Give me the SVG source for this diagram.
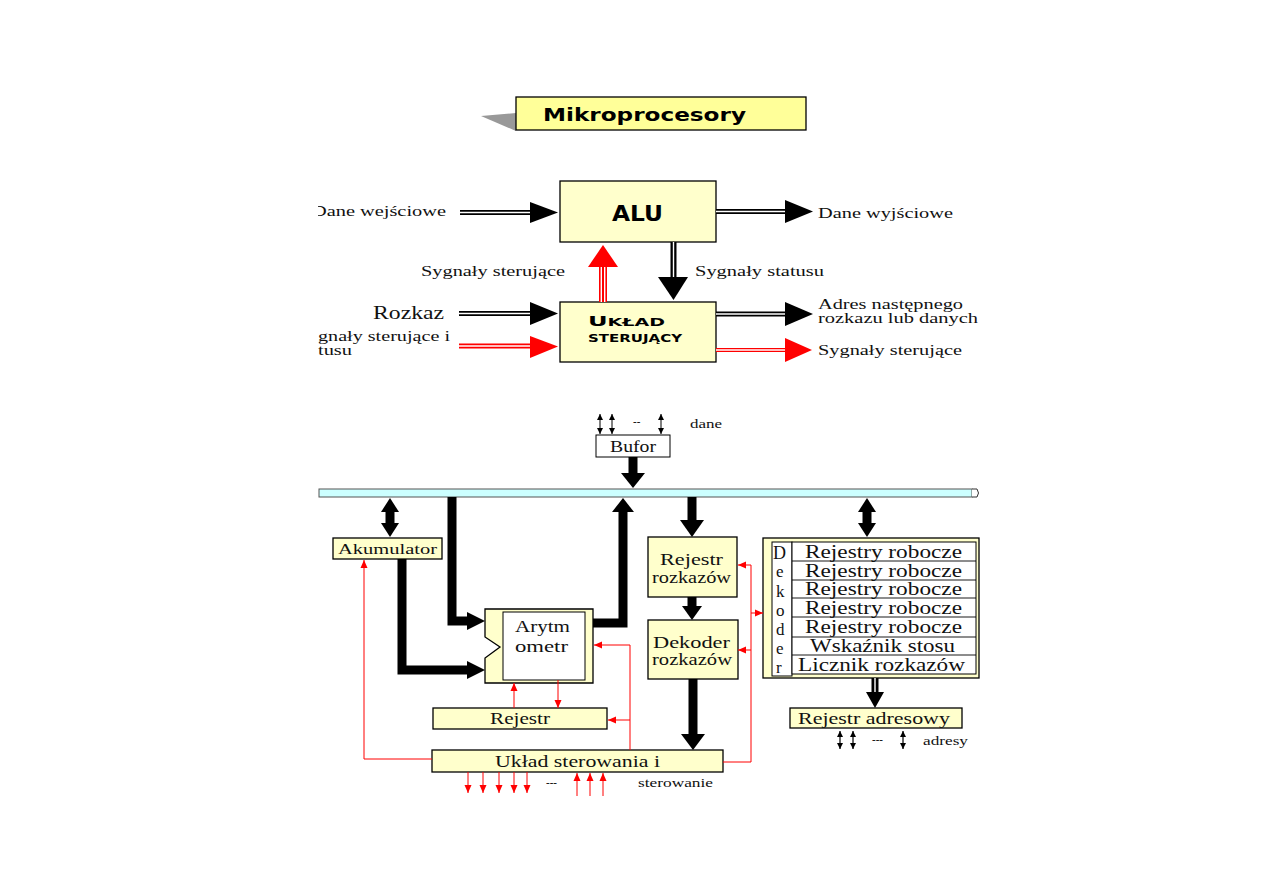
<svg xmlns="http://www.w3.org/2000/svg" width="1263" height="893" viewBox="0 0 1263 893">
<style>
.box{fill:#FFFFCC;stroke:#000;stroke-width:1.3}
.wbox{fill:#fff;stroke:#000;stroke-width:1}
.t{font-family:"Liberation Serif",serif;fill:#111}
.s{font-family:"DejaVu Sans","Liberation Sans",sans-serif;font-weight:bold;fill:#000}
.blk{stroke:#000;fill:none}
.red{stroke:#FF0000;fill:none;stroke-width:1}
.wl{stroke:#fff;fill:none;stroke-width:1.4}
.thick{stroke:#000;fill:none;stroke-width:9;stroke-linejoin:miter}
</style>
<defs>
<marker id="ra" viewBox="0 0 8 8" refX="8" refY="4" markerWidth="8" markerHeight="8" markerUnits="userSpaceOnUse" orient="auto"><path d="M0,0.5 L8,4 L0,7.5 Z" fill="#FF0000"/></marker>
<marker id="ba" viewBox="0 0 6 6" refX="6" refY="3" markerWidth="6" markerHeight="6" markerUnits="userSpaceOnUse" orient="auto-start-reverse"><path d="M0,0 L6,3 L0,6 Z" fill="#000"/></marker>
<clipPath id="lc"><rect x="318" y="0" width="945" height="893"/></clipPath>
<clipPath id="dc"><rect x="772" y="542" width="20" height="134"/></clipPath>
</defs>
<rect width="1263" height="893" fill="#fff"/>

<g id="title">
<polygon points="481,116 516,113 516,131" fill="#999"/>
<rect x="516" y="97" width="290" height="33" fill="#FFFF99" stroke="#000" stroke-width="1.3"/>
<text x="543" y="121" class="s" font-size="18" textLength="203" lengthAdjust="spacingAndGlyphs">Mikroprocesory</text>
</g>

<g id="alu">
<rect x="560" y="181" width="156" height="61" class="box"/>
<text x="612" y="221" class="s" font-size="21" textLength="51" lengthAdjust="spacingAndGlyphs">ALU</text>
</g>

<g id="uklad-sterujacy">
<rect x="560" y="302" width="156" height="60" class="box"/>
<text x="588" y="326" class="s" font-size="14" textLength="77" lengthAdjust="spacingAndGlyphs">U<tspan font-size="11">KŁAD</tspan></text>
<text x="588" y="342" class="s" font-size="10.5" textLength="94" lengthAdjust="spacingAndGlyphs">STERUJĄCY</text>
</g>

<g id="connectors-top">
<line x1="460" y1="212.5" x2="531" y2="212.5" class="blk" stroke-width="5"/>
<line x1="460" y1="212.5" x2="531" y2="212.5" class="wl"/>
<polygon points="530,202 558,212.5 530,223" fill="#000"/>
<line x1="716" y1="211.5" x2="786" y2="211.5" class="blk" stroke-width="5"/>
<line x1="716" y1="211.5" x2="786" y2="211.5" class="wl"/>
<polygon points="785,200 813,211.5 785,223" fill="#000"/>
<line x1="603" y1="266" x2="603" y2="302" stroke="#FF0000" stroke-width="8"/>
<line x1="601.3" y1="266" x2="601.3" y2="302" class="wl" stroke-width="1.1"/>
<line x1="604.7" y1="266" x2="604.7" y2="302" class="wl" stroke-width="1.1"/>
<polygon points="588,267 603,245 618,267" fill="#FF0000"/>
<line x1="673.5" y1="242" x2="673.5" y2="278" class="blk" stroke-width="6"/>
<line x1="673.5" y1="242" x2="673.5" y2="278" class="wl"/>
<polygon points="658,277 673.5,300 688,277" fill="#000"/>
<line x1="459" y1="313.5" x2="531" y2="313.5" class="blk" stroke-width="5"/>
<line x1="459" y1="313.5" x2="531" y2="313.5" class="wl"/>
<polygon points="530,302 558,313.5 530,325" fill="#000"/>
<line x1="459" y1="346" x2="531" y2="346" stroke="#FF0000" stroke-width="5"/>
<line x1="459" y1="346" x2="531" y2="346" class="wl"/>
<polygon points="530,336 558,346.5 530,358" fill="#FF0000"/>
<line x1="716" y1="314" x2="786" y2="314" class="blk" stroke-width="5"/>
<line x1="716" y1="314" x2="786" y2="314" class="wl"/>
<polygon points="785,302 813,314 785,326" fill="#000"/>
<line x1="716" y1="350" x2="786" y2="350" stroke="#FF0000" stroke-width="4"/>
<line x1="716" y1="350" x2="786" y2="350" class="wl" stroke-width="1.2"/>
<polygon points="785,338 812,350 785,362" fill="#FF0000"/>
</g>

<g id="labels-top">
<g clip-path="url(#lc)">
<text x="312" y="216" class="t" font-size="15" textLength="134" lengthAdjust="spacingAndGlyphs">Dane wejściowe</text>
</g>
<text x="818" y="218" class="t" font-size="15" textLength="135" lengthAdjust="spacingAndGlyphs">Dane wyjściowe</text>
<text x="421" y="276" class="t" font-size="15" textLength="144" lengthAdjust="spacingAndGlyphs">Sygnały sterujące</text>
<text x="695" y="276" class="t" font-size="15" textLength="129" lengthAdjust="spacingAndGlyphs">Sygnały statusu</text>
<text x="373" y="319" class="t" font-size="19" textLength="71" lengthAdjust="spacingAndGlyphs">Rozkaz</text>
<text x="318" y="341" class="t" font-size="14" textLength="132" lengthAdjust="spacingAndGlyphs">gnały sterujące i</text>
<text x="318" y="355" class="t" font-size="14" textLength="34" lengthAdjust="spacingAndGlyphs">tusu</text>
<text x="818" y="309" class="t" font-size="14" textLength="145" lengthAdjust="spacingAndGlyphs">Adres następnego</text>
<text x="818" y="323" class="t" font-size="14" textLength="160" lengthAdjust="spacingAndGlyphs">rozkazu lub danych</text>
<text x="818" y="355" class="t" font-size="15" textLength="144" lengthAdjust="spacingAndGlyphs">Sygnały sterujące</text>
</g>

<g id="bufor">
<rect x="596" y="435" width="74" height="22" class="wbox"/>
<text x="610" y="452" class="t" font-size="16" textLength="46" lengthAdjust="spacingAndGlyphs">Bufor</text>
</g>

<g id="bus">
<rect x="319" y="489" width="653" height="8" fill="#CCFFFF" stroke="#555" stroke-width="1"/>
<path d="M972,489 H977 Q980,493 977,497 H972" fill="#fff" stroke="#333" stroke-width="1"/>
</g>

<g id="akumulator">
<rect x="333" y="538" width="109" height="21" class="box"/>
<text x="338" y="554" class="t" font-size="15" textLength="99" lengthAdjust="spacingAndGlyphs">Akumulator</text>
</g>

<g id="arytmometr">
<path d="M485,609 H593 V683 H485 V658 L500,647 L485,637 Z" class="box"/>
<rect x="503" y="612" width="82" height="68" class="wbox"/>
<text x="515" y="632" class="t" font-size="16" textLength="55" lengthAdjust="spacingAndGlyphs">Arytm</text>
<text x="515" y="652" class="t" font-size="16" textLength="53" lengthAdjust="spacingAndGlyphs">ometr</text>
</g>

<g id="rejestr">
<rect x="433" y="708" width="174" height="21" class="box"/>
<text x="490" y="724" class="t" font-size="16" textLength="60" lengthAdjust="spacingAndGlyphs">Rejestr</text>
</g>

<g id="uklad-sterowania">
<rect x="432" y="750" width="291" height="22" class="box"/>
<text x="495" y="767" class="t" font-size="17" textLength="165" lengthAdjust="spacingAndGlyphs">Układ sterowania i</text>
</g>

<g id="rejestr-rozkazow">
<rect x="648" y="537" width="89" height="60" class="box"/>
<text x="660" y="565" class="t" font-size="16" textLength="63" lengthAdjust="spacingAndGlyphs">Rejestr</text>
<text x="652" y="583" class="t" font-size="16" textLength="79" lengthAdjust="spacingAndGlyphs">rozkazów</text>
</g>

<g id="dekoder-rozkazow">
<rect x="648" y="620" width="90" height="59" class="box"/>
<text x="653" y="648" class="t" font-size="16" textLength="77" lengthAdjust="spacingAndGlyphs">Dekoder</text>
<text x="652" y="665" class="t" font-size="16" textLength="80" lengthAdjust="spacingAndGlyphs">rozkazów</text>
</g>

<g id="rejestry">
<rect x="763" y="538" width="216" height="140" class="box"/>
<rect x="772" y="542" width="20" height="134" class="wbox"/>
<rect x="792" y="542" width="184" height="132" class="wbox"/>
<g stroke="#000" stroke-width="0.9">
<line x1="792" y1="561" x2="976" y2="561"/>
<line x1="792" y1="580" x2="976" y2="580"/>
<line x1="792" y1="598" x2="976" y2="598"/>
<line x1="792" y1="617" x2="976" y2="617"/>
<line x1="792" y1="637" x2="976" y2="637"/>
<line x1="792" y1="655" x2="976" y2="655"/>
</g>
<g clip-path="url(#dc)">
<text x="773" y="559" class="t" font-size="18">D</text>
<text x="776" y="577" class="t" font-size="17">e</text>
<text x="776" y="597" class="t" font-size="17">k</text>
<text x="776" y="616" class="t" font-size="17">o</text>
<text x="776" y="635" class="t" font-size="17">d</text>
<text x="776" y="654" class="t" font-size="17">e</text>
<text x="776" y="673" class="t" font-size="17">r</text>
</g>
<text x="805" y="558" class="t" font-size="18" textLength="157" lengthAdjust="spacingAndGlyphs">Rejestry robocze</text>
<text x="805" y="577" class="t" font-size="18" textLength="157" lengthAdjust="spacingAndGlyphs">Rejestry robocze</text>
<text x="805" y="595" class="t" font-size="18" textLength="157" lengthAdjust="spacingAndGlyphs">Rejestry robocze</text>
<text x="805" y="614" class="t" font-size="18" textLength="157" lengthAdjust="spacingAndGlyphs">Rejestry robocze</text>
<text x="805" y="633" class="t" font-size="18" textLength="157" lengthAdjust="spacingAndGlyphs">Rejestry robocze</text>
<text x="810" y="652" class="t" font-size="18" textLength="145" lengthAdjust="spacingAndGlyphs">Wskaźnik stosu</text>
<text x="798" y="671" class="t" font-size="18" textLength="167" lengthAdjust="spacingAndGlyphs">Licznik rozkazów</text>
</g>

<g id="rejestr-adresowy">
<rect x="790" y="708" width="172" height="20" class="box"/>
<text x="798" y="724" class="t" font-size="17" textLength="152" lengthAdjust="spacingAndGlyphs">Rejestr adresowy</text>
</g>

<g id="connectors-bottom">
<line x1="600" y1="414" x2="600" y2="434" stroke="#000" stroke-width="1" marker-start="url(#ba)" marker-end="url(#ba)"/>
<line x1="612" y1="414" x2="612" y2="434" stroke="#000" stroke-width="1" marker-start="url(#ba)" marker-end="url(#ba)"/>
<line x1="661" y1="414" x2="661" y2="434" stroke="#000" stroke-width="1" marker-start="url(#ba)" marker-end="url(#ba)"/>
<line x1="633" y1="457" x2="633" y2="474" class="thick"/>
<polygon points="621,473 633,488 645,473" fill="#000"/>
<line x1="390" y1="510" x2="390" y2="525" class="thick" stroke-width="8"/>
<polygon points="381,512 390,498 399,512" fill="#000"/>
<polygon points="381,523 390,537 399,523" fill="#000"/>
<polyline points="452,497 452,621 468,621" class="thick"/>
<polygon points="467,612 485,621 467,630" fill="#000"/>
<polyline points="402,559 402,670 468,670" class="thick"/>
<polygon points="467,661 485,670 467,679" fill="#000"/>
<polyline points="593,623 623,623 623,511" class="thick"/>
<polygon points="612,512 623,498 634,512" fill="#000"/>
<line x1="692" y1="497" x2="692" y2="521" class="thick"/>
<polygon points="680,520 692,537 704,520" fill="#000"/>
<line x1="692" y1="597" x2="692" y2="607" class="thick"/>
<polygon points="682,606 692,620 702,606" fill="#000"/>
<line x1="693" y1="679" x2="693" y2="735" class="thick" stroke-width="11"/>
<polygon points="681,734 693,750 705,734" fill="#000"/>
<line x1="867" y1="510" x2="867" y2="525" class="thick" stroke-width="8"/>
<polygon points="858,512 867,498 876,512" fill="#000"/>
<polygon points="858,523 867,537 876,523" fill="#000"/>
<line x1="875" y1="678" x2="875" y2="693" class="blk" stroke-width="7"/>
<line x1="875" y1="678" x2="875" y2="693" class="wl"/>
<polygon points="866,692 875,708 884,692" fill="#000"/>
<line x1="840" y1="731" x2="840" y2="749" stroke="#000" stroke-width="1.2" marker-start="url(#ba)" marker-end="url(#ba)"/>
<line x1="853" y1="731" x2="853" y2="749" stroke="#000" stroke-width="1.2" marker-start="url(#ba)" marker-end="url(#ba)"/>
<line x1="903" y1="731" x2="903" y2="749" stroke="#000" stroke-width="1.2" marker-start="url(#ba)" marker-end="url(#ba)"/>
<line x1="514" y1="708" x2="514" y2="683" class="red" marker-end="url(#ra)"/>
<line x1="558" y1="680" x2="558" y2="708" class="red" stroke-width="2" marker-end="url(#ra)"/>
<path d="M630,750 V645 H594" class="red" marker-end="url(#ra)"/>
<path d="M630,720 H608" class="red" marker-end="url(#ra)"/>
<path d="M432,759 H364 V560" class="red" marker-end="url(#ra)"/>
<path d="M723,762 H751 V565 H738" class="red" marker-end="url(#ra)"/>
<path d="M751,650 H738" class="red" marker-end="url(#ra)"/>
<path d="M751,613 H763" class="red" marker-end="url(#ra)"/>
<line x1="468" y1="772" x2="468" y2="793" class="red" marker-end="url(#ra)"/>
<line x1="483" y1="772" x2="483" y2="793" class="red" marker-end="url(#ra)"/>
<line x1="499" y1="772" x2="499" y2="793" class="red" marker-end="url(#ra)"/>
<line x1="514" y1="772" x2="514" y2="793" class="red" marker-end="url(#ra)"/>
<line x1="527" y1="772" x2="527" y2="793" class="red" marker-end="url(#ra)"/>
<line x1="577" y1="796" x2="577" y2="773" class="red" marker-end="url(#ra)"/>
<line x1="590" y1="796" x2="590" y2="773" class="red" marker-end="url(#ra)"/>
<line x1="603" y1="796" x2="603" y2="773" class="red" marker-end="url(#ra)"/>
</g>

<g id="labels-bottom">
<text x="633" y="425" class="t" font-size="11" font-weight="bold">--</text>
<text x="690" y="428" class="t" font-size="12" textLength="32" lengthAdjust="spacingAndGlyphs">dane</text>
<text x="546" y="786" class="t" font-size="11" font-weight="bold">---</text>
<text x="638" y="787" class="t" font-size="12" textLength="75" lengthAdjust="spacingAndGlyphs">sterowanie</text>
<text x="872" y="743" class="t" font-size="11" font-weight="bold">---</text>
<text x="923" y="745" class="t" font-size="12" textLength="45" lengthAdjust="spacingAndGlyphs">adresy</text>
</g>
</svg>
